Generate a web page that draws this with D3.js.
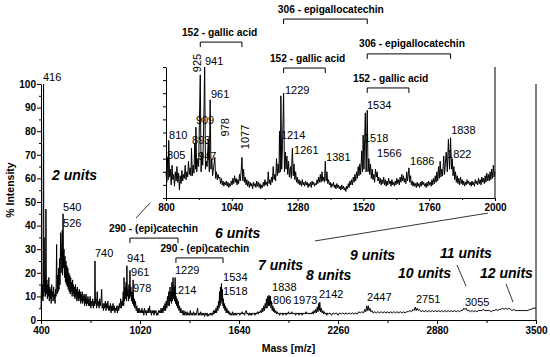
<!DOCTYPE html>
<html>
<head>
<meta charset="utf-8">
<script src="https://cdn.jsdelivr.net/npm/d3@7"></script>
<style>
body { margin: 0; background: #fff; }
svg { font-family: "Liberation Sans", Arial, sans-serif; }
.tickLab text { font-size: 10px; font-weight: bold; fill: #000; }
</style>
</head>
<body>
<script>

// full spectrum [m/z, % intensity]
let mainSpectrum = [
 [400,5],[403,16],[406,9],[409,15],[412,8],[416,100],[418,10],[419,35],[422,12],[425,18],[428,10],[431,47],[434,11],[437,17],[440,9],[443,15],[446,10],[449,18],[452,8],[455,14],[458,9],[461,13],[464,7],[467,15],[470,10],[473,12],[476,8],[479,14],[482,9],[485,11],[488,7],[491,13],[494,10],[498,32],[501,11],[504,19],[507,12],[510,22],[513,13],[516,26],[519,15],[523,37],[526,20],[529,30],[533,38],[535,19],[538,45],[541,22],[544,30],[547,18],[550,27],[553,16],[556,25],[559,15],[562,23],[565,14],[568,22],[571,13],[574,20],[577,12],[580,19],[583,11],[586,18],[589,12],[592,16],[595,10],[598,17],[601,11],[604,15],[607,10],[610,14],[613,9],[616,15],[619,10],[622,13],[625,8],[628,14],[631,9],[634,12],[637,8],[640,13],[643,9],[646,12],[649,7],[652,11],[655,8],[658,12],[661,7],[664,10],[667,8],[670,11],[673,6],[676,10],[679,7],[682,11],[685,6],[688,9],[691,7],[694,10],[697,6],[700,9],[704,6],[708,10],[712,5],[716,8],[720,6],[724,9],[728,5],[732,8],[736,6],[738,25],[741,7],[744,9],[748,5],[752,12],[756,6],[760,8],[764,5],[768,9],[772,6],[776,8],[780,13],[783,5],[787,7],[791,4],[795,7],[799,5],[803,8],[807,4],[811,7],[815,5],[819,8],[823,4],[827,6],[831,4],[835,7],[839,3],[843,6],[847,4],[851,7],[855,4],[859,6],[863,3],[867,5],[871,4],[875,6],[879,3],[883,6],[887,4],[891,7],[895,5],[899,9],[903,5],[907,8],[911,6],[915,12],[918,6],[920,18],[923,8],[927,14],[930,9],[933,16],[936,8],[938,23],[941,10],[945,13],[948,8],[951,15],[954,9],[957,21],[960,10],[963,14],[966,8],[970,12],[973,7],[977,17],[980,6],[984,9],[988,5],[992,8],[996,4],[1000,6],[1004,3],[1008,5],[1012,3],[1016,5],[1020,3],[1024,4],[1028,3],[1032,5],[1036,3],[1040,4],[1044,2],[1048,5],[1052,3],[1056,4],[1060,2],[1064,4],[1068,3],[1072,5],[1076,3],[1080,6],[1084,3],[1088,4],[1092,2],[1096,4],[1100,3],[1104,4],[1108,2],[1112,4],[1116,3],[1120,4],[1124,2],[1128,3],[1132,2],[1136,4],[1140,3],[1144,4],[1148,3],[1152,5],[1156,3],[1160,5],[1164,3],[1168,6],[1172,4],[1176,7],[1180,4],[1184,8],[1188,5],[1192,10],[1196,6],[1200,12],[1204,6],[1208,14],[1211,8],[1214,12],[1217,7],[1220,16],[1223,8],[1227,18],[1230,9],[1233,14],[1236,8],[1240,18],[1243,7],[1246,10],[1249,6],[1252,9],[1256,5],[1260,8],[1264,4],[1268,6],[1272,3],[1276,5],[1280,3],[1285,4],[1290,2],[1295,4],[1300,2],[1305,3.5],[1310,2],[1315,3.5],[1320,2],[1325,3],[1330,2],[1335,4],[1340,2],[1345,3],[1350,2],[1355,3.5],[1360,2],[1365,3],[1370,2],[1375,3],[1381,5],[1385,2],[1390,3],[1395,2],[1400,3.5],[1405,2],[1410,3],[1415,2],[1420,3],[1425,1.5],[1430,3],[1435,2],[1440,3],[1445,1.5],[1450,2.5],[1455,2],[1460,3],[1465,2],[1470,3],[1475,2],[1480,4],[1484,2.5],[1488,4],[1492,3],[1496,5],[1500,3],[1504,6],[1508,4],[1512,8],[1515,5],[1518,12],[1521,6],[1524,14],[1527,7],[1530,15.5],[1533,8],[1536,13],[1539,6],[1542,9],[1545,5],[1548,7],[1552,4],[1556,6],[1560,3],[1564,5],[1568,3],[1572,4],[1576,2.5],[1580,3.5],[1585,2],[1590,3],[1595,2],[1600,3.5],[1605,2],[1610,3],[1615,2],[1620,3],[1625,2],[1630,3],[1635,2.5],[1640,3],[1645,2],[1650,3],[1655,2.5],[1660,3.5],[1665,2.5],[1670,3],[1675,2],[1680,3.5],[1686,4],[1690,2.5],[1695,3],[1700,2],[1705,3],[1710,2],[1715,3],[1720,2],[1725,3],[1730,2.5],[1735,3],[1740,2],[1745,3],[1750,2.5],[1755,3.5],[1760,2.5],[1765,3.5],[1770,3],[1775,4],[1780,3],[1785,5],[1790,3.5],[1795,6],[1800,4],[1804,7],[1808,5],[1812,9],[1816,5],[1820,10],[1824,6],[1828,10.5],[1832,6],[1836,10],[1840,5],[1844,8],[1848,4],[1852,6],[1856,3.5],[1860,5],[1865,3],[1870,4],[1875,2.5],[1880,3.5],[1885,2.5],[1890,3],[1895,2],[1900,3],[1905,2.5],[1910,3],[1915,2],[1920,3],[1925,2.5],[1930,3],[1935,2],[1940,3],[1945,2.5],[1950,3.5],[1955,2.5],[1960,3],[1965,2.5],[1970,3.5],[1975,2.5],[1980,3],[1985,2.5],[1990,3],[1995,2],[2000,3],[2005,2.5],[2010,3],[2015,2],[2020,3],[2025,2.5],[2030,3],[2035,2],[2040,3],[2045,2.5],[2050,3],[2055,2.5],[2060,3.5],[2065,2.5],[2070,3],[2075,2.5],[2080,3],[2085,2.5],[2090,3],[2095,2.5],[2100,3.5],[2105,2.5],[2110,4],[2115,3],[2120,4.5],[2125,3],[2130,5.5],[2134,3.5],[2138,7],[2142,4],[2146,7.5],[2150,3.5],[2155,5],[2160,3],[2165,4],[2170,2.5],[2175,3.5],[2180,2.5],[2185,3],[2190,2],[2195,3],[2200,2.5],[2210,3],[2220,2],[2230,3],[2240,2.5],[2250,3],[2260,2],[2270,3],[2280,2.5],[2290,3],[2300,2.5],[2310,3],[2320,2.5],[2330,3],[2340,2.5],[2350,3],[2360,2.5],[2370,3],[2380,2.5],[2390,3.5],[2400,3],[2410,3.5],[2420,3],[2428,4.5],[2434,3.5],[2440,6],[2445,4],[2450,6],[2455,4],[2460,5],[2466,3.5],[2472,4],[2480,3],[2490,3.5],[2500,3],[2510,3.5],[2520,3],[2530,3.5],[2540,3],[2550,3.5],[2560,3],[2570,3.5],[2580,3],[2590,3.5],[2600,3],[2610,3.5],[2620,3],[2630,3.5],[2640,3],[2650,3.5],[2660,3],[2670,3.5],[2680,3],[2690,3.5],[2700,3.5],[2710,4],[2720,3.5],[2730,4.5],[2737,4],[2744,5.5],[2750,4],[2756,5],[2762,4],[2770,4.5],[2780,3.5],[2790,4],[2800,3.5],[2810,4],[2820,3.5],[2830,4],[2840,3.5],[2850,4],[2860,3.5],[2870,4],[2880,3.5],[2890,4],[2900,3.5],[2910,4],[2920,3.5],[2930,4],[2940,3.5],[2950,4],[2960,3.5],[2970,4],[2980,3.5],[2990,4],[3000,3.5],[3010,4],[3020,3.5],[3030,4],[3040,4],[3048,5],[3055,4.5],[3062,5],[3070,4],[3080,4],[3090,3.5],[3100,4],[3110,3.5],[3120,4],[3130,3.5],[3140,4],[3150,4],[3160,4],[3170,4.5],[3180,4],[3190,4],[3200,4],[3210,4],[3220,3.5],[3230,4],[3240,4],[3250,4.5],[3260,4],[3270,4.5],[3280,4.5],[3290,5],[3300,4.5],[3310,5],[3320,4.5],[3330,5],[3340,4.5],[3350,4],[3360,4.5],[3370,4],[3380,4],[3390,4],[3400,4],[3410,4],[3420,4],[3430,4],[3440,4],[3450,4],[3460,4.5],[3470,4.5],[3480,5],[3490,5],[3500,5]
]

// zoomed spectrum 800-2000 [m/z, % intensity]
let insetSpectrum = [
 [800,20],[803,12],[805,31],[808,14],[810,44],[813,16],[816,22],[819,10],[822,25],[825,14],[828,18],[831,9],[834,20],[837,13],[840,24],[843,12],[846,19],[849,6],[852,17],[855,11],[858,21],[861,13],[864,18],[867,15],[870,25],[873,14],[876,20],[879,16],[882,28],[885,18],[888,23],[891,17],[893,38],[896,17],[899,25],[902,19],[905,42],[908,22],[909,54],[912,20],[916,30],[919,24],[922,60],[925,94],[928,20],[931,35],[934,25],[938,60],[941,100],[944,22],[947,28],[950,24],[954,45],[958,20],[961,75],[964,22],[967,30],[970,17],[974,24],[978,31],[981,15],[984,20],[987,14],[990,18],[993,15],[996,16],[999,11],[1002,15],[1005,10],[1008,13],[1011,9],[1014,12],[1017,10],[1020,13],[1023,9],[1026,12],[1029,8],[1032,11],[1035,9],[1038,13],[1041,10],[1044,15],[1047,11],[1050,17],[1053,12],[1056,15],[1059,10],[1062,14],[1065,11],[1068,18],[1071,13],[1074,20],[1077,31],[1080,13],[1083,22],[1086,12],[1089,16],[1092,10],[1095,14],[1098,9],[1101,13],[1104,8],[1107,12],[1110,9],[1113,11],[1116,7],[1119,12],[1122,9],[1125,11],[1128,8],[1131,13],[1134,9],[1137,12],[1140,8],[1143,11],[1146,7],[1149,10],[1152,8],[1155,12],[1158,9],[1161,14],[1164,10],[1167,12],[1170,9],[1173,20],[1176,11],[1179,14],[1182,10],[1185,16],[1188,12],[1191,24],[1194,14],[1197,18],[1200,13],[1203,30],[1206,17],[1209,26],[1212,19],[1214,51],[1217,20],[1219,78],[1222,22],[1225,40],[1229,80],[1232,20],[1235,35],[1238,22],[1241,32],[1244,18],[1247,28],[1250,16],[1254,24],[1257,15],[1261,38],[1264,17],[1267,26],[1270,14],[1273,20],[1276,12],[1279,16],[1282,11],[1285,14],[1288,10],[1291,13],[1294,9],[1297,14],[1300,10],[1303,12],[1306,9],[1309,13],[1312,10],[1315,12],[1318,8],[1321,11],[1324,9],[1327,12],[1330,8],[1333,13],[1336,10],[1339,12],[1342,9],[1345,11],[1348,10],[1351,14],[1354,11],[1357,16],[1360,12],[1363,18],[1366,12],[1369,20],[1372,13],[1375,16],[1378,12],[1381,28],[1384,13],[1387,20],[1390,11],[1393,14],[1396,10],[1399,12],[1402,8],[1405,11],[1408,9],[1411,12],[1414,8],[1417,10],[1420,7],[1423,11],[1426,8],[1429,10],[1432,7],[1435,9],[1438,6],[1441,10],[1444,7],[1447,9],[1450,6],[1453,8],[1456,5],[1459,9],[1462,7],[1465,11],[1468,8],[1471,13],[1474,10],[1477,14],[1480,10],[1483,16],[1486,12],[1489,18],[1492,13],[1495,20],[1498,15],[1501,24],[1504,17],[1507,26],[1510,18],[1514,36],[1517,20],[1519,48],[1522,22],[1527,65],[1530,20],[1534,67],[1537,20],[1540,30],[1543,18],[1546,26],[1549,15],[1552,22],[1555,14],[1558,18],[1561,12],[1564,22],[1567,16],[1570,20],[1573,13],[1576,16],[1579,11],[1582,15],[1585,10],[1588,14],[1591,11],[1594,16],[1597,10],[1600,14],[1603,9],[1606,13],[1609,10],[1612,15],[1615,11],[1618,13],[1621,9],[1624,14],[1627,10],[1630,12],[1633,9],[1636,13],[1639,10],[1642,15],[1645,11],[1648,14],[1651,10],[1654,16],[1657,12],[1660,18],[1663,13],[1666,17],[1669,12],[1672,15],[1675,11],[1678,20],[1681,13],[1686,23],[1689,12],[1692,17],[1695,10],[1698,13],[1701,9],[1704,12],[1707,9],[1710,11],[1713,8],[1716,12],[1719,9],[1722,11],[1725,8],[1728,12],[1731,9],[1734,13],[1737,10],[1740,12],[1743,9],[1746,11],[1749,8],[1752,12],[1755,9],[1758,13],[1761,10],[1764,12],[1767,9],[1770,14],[1773,10],[1776,15],[1779,11],[1782,17],[1785,12],[1788,20],[1791,13],[1794,24],[1797,15],[1800,28],[1803,16],[1806,22],[1809,17],[1813,32],[1816,18],[1822,35],[1826,20],[1830,45],[1834,22],[1838,46],[1841,22],[1844,30],[1847,17],[1850,24],[1853,14],[1856,20],[1859,12],[1862,17],[1865,11],[1868,15],[1871,10],[1874,16],[1877,11],[1880,14],[1883,10],[1886,13],[1889,9],[1892,12],[1895,10],[1898,14],[1901,11],[1904,13],[1907,10],[1910,12],[1913,9],[1916,13],[1919,10],[1922,12],[1925,9],[1928,14],[1931,11],[1934,13],[1937,10],[1940,15],[1943,11],[1946,14],[1949,10],[1952,16],[1955,12],[1958,15],[1961,11],[1964,17],[1967,12],[1970,19],[1973,13],[1976,18],[1979,13],[1982,20],[1985,14],[1988,22],[1991,15],[1994,25],[1997,16],[2000,20]
]

let mainTicksX = [400, 1020, 1640, 2260, 2880, 3500]
let mainTicksY = [0, 10, 20, 30, 40, 50, 60, 70, 80, 90, 100]
let insetTicksX = [800, 1040, 1280, 1520, 1760, 2000]

// labels in main plot: [text, m/z, intensity, bold-italic?]
let mainLabels = [
 ["416", 412, 103, false], ["540", 538, 48, false], ["526", 538, 41, false],
 ["740", 738, 28.4, false], ["941", 939, 26.3, false], ["961", 964, 20.3, false],
 ["978", 976, 13.6, false], ["1229", 1239, 21.2, false], ["1214", 1220, 12.7, false],
 ["1534", 1540, 18.2, false], ["1518", 1540, 12.3, false], ["1838", 1847, 14, false],
 ["1806", 1815, 8.3, false], ["1973", 1978, 8.3, false], ["2142", 2141, 11, false],
 ["2447", 2442, 9.7, false], ["2751", 2748, 8.9, false], ["3055", 3055, 7.6, false],
 ["2 units", 469, 61.4, true], ["6 units", 1490, 36.9, true], ["7 units", 1759, 23.3, true],
 ["8 units", 2060, 19.1, true], ["9 units", 2335, 27.5, true], ["10 units", 2636, 19.9, true],
 ["11 units", 2899, 28.4, true], ["12 units", 3149, 19.9, true]
]
// labels in inset: [text, m/z, intensity, rotated?]
let insetLabels = [
 ["941", 942, 104.6, false], ["961", 964, 79.4, false], ["909", 909, 59.5, false],
 ["893", 895, 44.3, false], ["810", 811, 48.1, false], ["805", 804, 32.8, false],
 ["947", 917, 32.1, false], ["1229", 1234, 82.4, false], ["1214", 1219, 48.1, false],
 ["1261", 1267, 36.6, false], ["1381", 1384, 31.3, false], ["1534", 1533, 71, false],
 ["1518", 1522, 45.8, false], ["1566", 1570, 34.4, false], ["1686", 1690, 28.2, false],
 ["1838", 1840, 51.9, false], ["1822", 1825, 33.6, false],
 ["925", 913, 103, true], ["978", 1015, 54, true], ["1077", 1088, 46.6, true]
]
// mass-difference brackets: [text, from, to, level, text start m/z]
let insetBrackets = [
 ["152 - gallic acid", 925, 1077, 119, 858],
 ["306 - epigallocatechin", 1229, 1534, 136.6, 1208],
 ["152 - gallic acid", 1229, 1381, 99.2, 1179],
 ["306 - epigallocatechin", 1534, 1838, 110, 1504],
 ["152 - gallic acid", 1534, 1686, 84, 1482]
]
let mainBrackets = [
 ["290 - (epi)catechin", 957, 1258, 34.7, 826],
 ["290 - (epi)catechin", 1245, 1540, 26.3, 1148]
]
// pointer lines: [m/z1, int1, m/z2, int2]
let pointers = [
 [995, 43.2, 1083, 49.6],
 [2116, 33.5, 3199, 45.3],
 [3005, 23.3, 3062, 14.4],
 [3312, 15.3, 3356, 7.6]
]

let w = 550
let h = 357

let svg = d3.select("body").append("svg")
            .attr("width", w)
            .attr("height", h)

let mx = d3.scaleLinear().domain([400, 3500]).range([41, 536])
let my = d3.scaleLinear().domain([0, 100]).range([320, 84])
let ix = d3.scaleLinear().domain([800, 2000]).range([166, 495])
let iy = d3.scaleLinear().domain([0, 100]).range([198, 67])

let midpoints = (arr) => arr.slice(1).map((v, i) => (v + arr[i]) / 2)

// main axes
svg.append("g").attr("class", "tickLab")
            .attr("transform", "translate(0," + my(0) + ")")
            .call(d3.axisBottom(mx).tickValues(mainTicksX).tickSize(4).tickSizeOuter(0).tickFormat(d3.format("d")))
svg.append("g").attr("transform", "translate(0," + my(0) + ")")
            .call(d3.axisBottom(mx).tickValues(midpoints(mainTicksX)).tickSize(3).tickFormat(""))
            .select(".domain").remove()

svg.append("g").attr("class", "tickLab")
            .attr("transform", "translate(" + mx(400) + ",0)")
            .call(d3.axisLeft(my).tickValues(mainTicksY).tickSize(4).tickPadding(1).tickSizeOuter(0))
svg.append("g").attr("transform", "translate(" + mx(400) + ",0)")
            .call(d3.axisLeft(my).tickValues(midpoints(mainTicksY)).tickSize(2).tickFormat(""))
            .select(".domain").remove()

svg.append("line")
            .attr("x1", mx(3500)).attr("x2", mx(3500))
            .attr("y1", my(100)).attr("y2", my(0))
            .attr("stroke", "#000")

// inset axes
svg.append("g").attr("class", "tickLab")
            .attr("transform", "translate(0," + iy(0) + ")")
            .call(d3.axisBottom(ix).tickValues(insetTicksX).tickSize(3).tickSizeOuter(0).tickFormat(d3.format("d")))
svg.append("g").attr("transform", "translate(0," + iy(0) + ")")
            .call(d3.axisBottom(ix).tickValues(midpoints(insetTicksX)).tickSize(2).tickFormat(""))
            .select(".domain").remove()
svg.append("g")
            .attr("transform", "translate(" + ix(800) + ",0)")
            .call(d3.axisLeft(iy).tickValues(mainTicksY).tickSize(3).tickSizeOuter(0).tickFormat(""))
svg.append("line")
            .attr("x1", ix(2000)).attr("x2", ix(2000))
            .attr("y1", iy(100)).attr("y2", iy(0))
            .attr("stroke", "#000")

svg.selectAll(".domain").attr("stroke", "#000")

// spectra
let lineMain = d3.line().x(d => mx(d[0])).y(d => my(d[1]))
let lineInset = d3.line().x(d => ix(d[0])).y(d => iy(d[1]))

svg.append("path")
            .datum(mainSpectrum)
            .attr("d", lineMain)
            .attr("fill", "none")
            .attr("stroke", "#000")
            .attr("stroke-width", 1)

svg.append("path")
            .datum(insetSpectrum)
            .attr("d", lineInset)
            .attr("fill", "none")
            .attr("stroke", "#000")
            .attr("stroke-width", 1)

// peak labels
svg.selectAll(".mainLab")
            .data(mainLabels)
            .enter()
            .append("text")
            .attr("class", "mainLab")
            .attr("x", d => mx(d[1]))
            .attr("y", d => my(d[2]))
            .attr("dy", "0.35em")
            .attr("font-size", d => d[3] ? "14px" : "11px")
            .attr("font-weight", d => d[3] ? "bold" : "normal")
            .attr("font-style", d => d[3] ? "italic" : "normal")
            .text(d => d[0])

svg.selectAll(".insetLab")
            .data(insetLabels)
            .enter()
            .append("text")
            .attr("class", "insetLab")
            .attr("transform", d => "translate(" + ix(d[1]) + "," + iy(d[2]) + ")" + (d[3] ? " rotate(-90)" : ""))
            .attr("text-anchor", d => d[3] ? "middle" : "start")
            .attr("dy", "0.35em")
            .attr("font-size", "11px")
            .text(d => d[0])

// brackets
function drawBrackets(data, xs, ys) {
    let g = svg.append("g")
    g.selectAll("path")
            .data(data)
            .enter()
            .append("path")
            .attr("d", d => "M" + xs(d[1]) + "," + (ys(d[3]) + 5) + "V" + ys(d[3]) + "H" + xs(d[2]) + "V" + (ys(d[3]) + 5))
            .attr("fill", "none")
            .attr("stroke", "#000")
            .attr("stroke-width", 1)
    g.selectAll("text")
            .data(data)
            .enter()
            .append("text")
            .attr("x", d => xs(d[4]))
            .attr("y", d => ys(d[3]) - 10)
            .attr("dy", "0.35em")
            .attr("font-size", "10.2px")
            .attr("font-weight", "bold")
            .text(d => d[0])
}
drawBrackets(insetBrackets, ix, iy)
drawBrackets(mainBrackets, mx, my)

svg.selectAll(".pointer")
            .data(pointers)
            .enter()
            .append("line")
            .attr("class", "pointer")
            .attr("x1", d => mx(d[0])).attr("y1", d => my(d[1]))
            .attr("x2", d => mx(d[2])).attr("y2", d => my(d[3]))
            .attr("stroke", "#000")
            .attr("stroke-width", 0.8)

// axis titles
svg.append("text")
            .attr("x", (mx(400) + mx(3500)) / 2)
            .attr("y", 348)
            .attr("dy", "0.35em")
            .attr("text-anchor", "middle")
            .attr("font-size", "10.5px")
            .attr("font-weight", "bold")
            .text("Mass [m/z]")

svg.append("text")
            .attr("transform", "translate(10,190) rotate(-90)")
            .attr("dy", "0.35em")
            .attr("text-anchor", "middle")
            .attr("font-size", "10.5px")
            .attr("font-weight", "bold")
            .text("% Intensity")

</script>
</body>
</html>
